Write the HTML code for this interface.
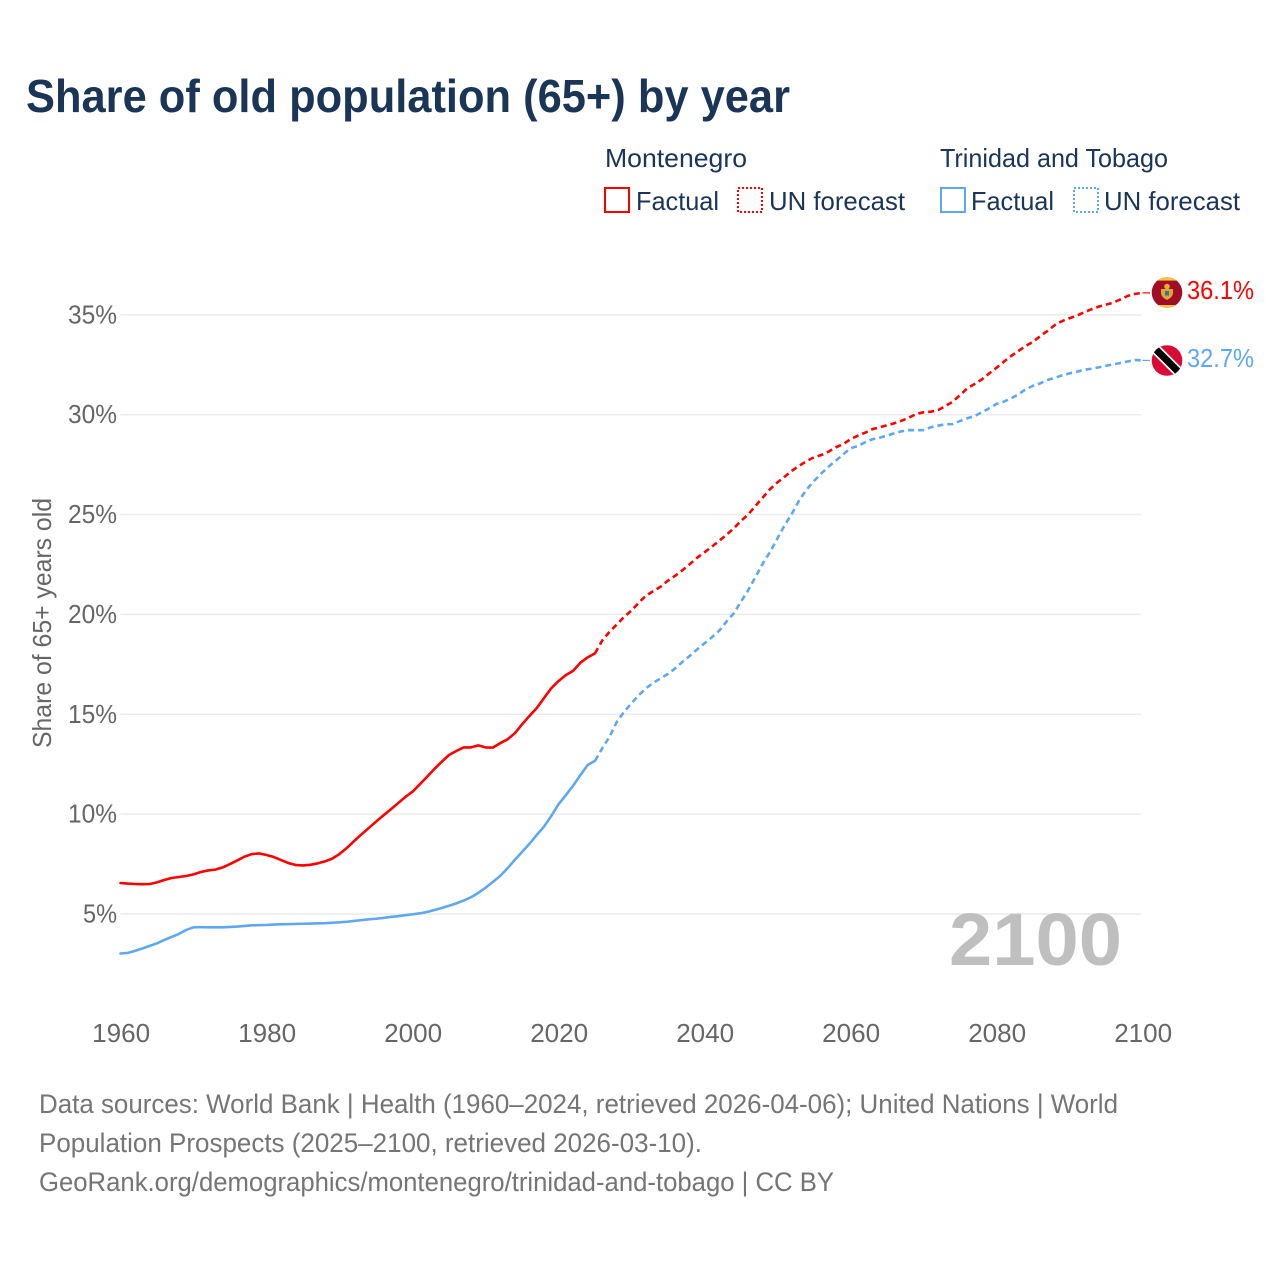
<!DOCTYPE html>
<html lang="en">
<head>
<meta charset="utf-8">
<title>Share of old population (65+) by year</title>
<style>
html,body{margin:0;padding:0;background:#fff;}
svg{display:block;font-family:"Liberation Sans",Arial,sans-serif;}
</style>
</head>
<body>
<svg id="chart" xmlns="http://www.w3.org/2000/svg" width="1280" height="1280" viewBox="0 0 1280 1280">
  <rect x="0" y="0" width="1280" height="1280" fill="#ffffff"/>
  <text x="26" y="112" font-size="46" font-weight="700" fill="#1a3556" textLength="764" lengthAdjust="spacingAndGlyphs">Share of old population (65+) by year</text>

  <g font-size="26" fill="#1a3556">
    <text x="605" y="167" textLength="142" lengthAdjust="spacingAndGlyphs">Montenegro</text>
    <rect x="605" y="188" width="24" height="24" fill="none" stroke="#ff0000" stroke-width="2"/>
    <text x="636" y="210" textLength="83" lengthAdjust="spacingAndGlyphs">Factual</text>
    <rect x="738" y="188" width="24" height="24" fill="none" stroke="#ff0000" stroke-width="2" stroke-dasharray="2 2"/>
    <text x="769" y="210" textLength="136" lengthAdjust="spacingAndGlyphs">UN forecast</text>
    <text x="940" y="167" textLength="228" lengthAdjust="spacingAndGlyphs">Trinidad and Tobago</text>
    <rect x="941" y="188" width="24" height="24" fill="none" stroke="#5fa8ee" stroke-width="2"/>
    <text x="971" y="210" textLength="83" lengthAdjust="spacingAndGlyphs">Factual</text>
    <rect x="1074" y="188" width="24" height="24" fill="none" stroke="#5fa8ee" stroke-width="2" stroke-dasharray="2 2"/>
    <text x="1104" y="210" textLength="136" lengthAdjust="spacingAndGlyphs">UN forecast</text>
  </g>

  <g id="grid"></g>
  <g id="yticks" font-size="26" fill="#666666"></g>
  <g id="xticks" font-size="26" fill="#666666"></g>
  <text transform="translate(51,748) rotate(-90)" font-size="26" fill="#666666" textLength="250" lengthAdjust="spacingAndGlyphs">Share of 65+ years old</text>

  <text x="949" y="965" font-size="74" font-weight="700" fill="#bfbfbf" textLength="173" lengthAdjust="spacingAndGlyphs">2100</text>

  <g id="series"></g>

  <g>
    <clipPath id="meclip"><circle cx="1167" cy="292.5" r="15.3"/></clipPath>
    <circle cx="1167" cy="292.5" r="15.3" fill="#a00d25"/>
    <g clip-path="url(#meclip)">
      <rect x="1151" y="277" width="32" height="3.6" fill="#f4c53d"/>
      <rect x="1151" y="305" width="32" height="3.6" fill="#f4c53d"/>
    </g>
    <path d="M1161 289h12v4q0 4-6 7q-6-3-6-7z" fill="#d9a92e"/>
    <circle cx="1167" cy="286.5" r="2.8" fill="#e0b030"/>
    <rect x="1165" y="291" width="4" height="4.5" fill="#3c6da8"/>
  </g>
  <g>
    <clipPath id="ttclip"><circle cx="1167" cy="360.5" r="15.3"/></clipPath>
    <circle cx="1167" cy="360.5" r="15.3" fill="#da0a35"/>
    <g clip-path="url(#ttclip)">
      <line x1="1152" y1="345.5" x2="1182" y2="375.5" stroke="#ffffff" stroke-width="10.5"/>
      <line x1="1152" y1="345.5" x2="1182" y2="375.5" stroke="#000000" stroke-width="7"/>
    </g>
  </g>

  <text id="label-red" x="1187" y="299" font-size="26" fill="#ff0000" textLength="67" lengthAdjust="spacingAndGlyphs"></text>
  <text id="label-blue" x="1187" y="367" font-size="26" fill="#5fa8ee" textLength="67" lengthAdjust="spacingAndGlyphs"></text>

  <g font-size="26.5" fill="#757575">
    <text x="39" y="1113" textLength="1079" lengthAdjust="spacingAndGlyphs">Data sources: World Bank | Health (1960–2024, retrieved 2026-04-06); United Nations | World</text>
    <text x="39" y="1152" textLength="663" lengthAdjust="spacingAndGlyphs">Population Prospects (2025–2100, retrieved 2026-03-10).</text>
    <text x="39" y="1191" textLength="795" lengthAdjust="spacingAndGlyphs">GeoRank.org/demographics/montenegro/trinidad-and-tobago | CC BY</text>
  </g>
</svg>
<script>
const xTickLabels = [1960, 1980, 2000, 2020, 2040, 2060, 2080, 2100];
const yTickLabels = [5, 10, 15, 20, 25, 30, 35];

const factualYears = [
  1960,1961,1962,1963,1964,1965,1966,1967,1968,1969,
  1970,1971,1972,1973,1974,1975,1976,1977,1978,1979,
  1980,1981,1982,1983,1984,1985,1986,1987,1988,1989,
  1990,1991,1992,1993,1994,1995,1996,1997,1998,1999,
  2000,2001,2002,2003,2004,2005,2006,2007,2008,2009,
  2010,2011,2012,2013,2014,2015,2016,2017,2018,2019,
  2020,2021,2022,2023,2024,2025];
const forecastYears = [
  2025,2026,2027,2028,2029,
  2030,2031,2032,2033,2034,2035,2036,2037,2038,2039,
  2040,2041,2042,2043,2044,2045,2046,2047,2048,2049,
  2050,2051,2052,2053,2054,2055,2056,2057,2058,2059,
  2060,2061,2062,2063,2064,2065,2066,2067,2068,2069,
  2070,2071,2072,2073,2074,2075,2076,2077,2078,2079,
  2080,2081,2082,2083,2084,2085,2086,2087,2088,2089,
  2090,2091,2092,2093,2094,2095,2096,2097,2098,2099,
  2100];

const montenegroFactual = [
  6.55,6.52,6.5,6.49,6.5,6.58,6.7,6.8,6.85,6.9,
  6.98,7.1,7.18,7.22,7.33,7.5,7.68,7.87,8.0,8.03,
  7.95,7.85,7.7,7.55,7.45,7.43,7.46,7.53,7.63,7.77,
  8.0,8.3,8.65,8.98,9.3,9.62,9.93,10.23,10.54,10.85,
  11.12,11.49,11.87,12.26,12.62,12.96,13.16,13.34,13.34,13.44,
  13.34,13.33,13.55,13.74,14.04,14.49,14.91,15.3,15.8,16.3,
  16.66,16.96,17.17,17.58,17.85,18.05];
const montenegroForecast = [
  18.05,18.7,19.13,19.5,19.88,
  20.19,20.59,20.94,21.17,21.39,21.69,21.94,22.22,22.52,22.84,
  23.11,23.39,23.68,23.98,24.31,24.68,25.01,25.44,25.86,26.28,
  26.61,26.9,27.2,27.45,27.68,27.87,27.98,28.15,28.37,28.53,
  28.77,28.95,29.1,29.28,29.37,29.47,29.57,29.7,29.85,30.04,
  30.12,30.15,30.23,30.43,30.65,30.98,31.32,31.54,31.77,32.07,
  32.35,32.65,32.94,33.19,33.44,33.65,33.94,34.2,34.49,34.69,
  34.83,34.96,35.13,35.28,35.41,35.51,35.61,35.78,35.95,36.05,
  36.1];
const trinidadFactual = [
  3.02,3.05,3.15,3.27,3.4,3.53,3.7,3.85,4.0,4.2,
  4.33,4.34,4.33,4.33,4.33,4.35,4.37,4.4,4.43,4.44,
  4.45,4.47,4.48,4.49,4.5,4.51,4.52,4.53,4.54,4.56,
  4.58,4.61,4.65,4.69,4.73,4.76,4.8,4.85,4.89,4.94,
  4.98,5.03,5.1,5.2,5.3,5.41,5.53,5.67,5.83,6.05,
  6.31,6.6,6.9,7.28,7.7,8.1,8.5,8.95,9.37,9.9,
  10.49,10.95,11.42,11.95,12.46,12.67];
const trinidadForecast = [
  12.67,13.3,13.88,14.63,15.13,
  15.55,15.96,16.3,16.58,16.8,17.02,17.3,17.63,17.93,18.25,
  18.55,18.85,19.18,19.63,20.05,20.64,21.22,21.89,22.56,23.14,
  23.81,24.48,25.06,25.73,26.26,26.68,27.06,27.4,27.7,28.01,
  28.32,28.43,28.62,28.77,28.85,28.95,29.07,29.17,29.23,29.22,
  29.23,29.37,29.45,29.52,29.53,29.68,29.82,29.93,30.12,30.32,
  30.54,30.65,30.82,31.02,31.27,31.45,31.57,31.74,31.85,31.97,
  32.07,32.15,32.25,32.3,32.37,32.45,32.52,32.59,32.67,32.74,
  32.72];

const RED = '#ff0000';
const BLUE = '#5fa8ee';
const NS = 'http://www.w3.org/2000/svg';

function xScale(year) { return 120.5 + (year - 1960) * 7.3; }
function yScale(value) { return 1013.8 - value * 19.97; }

function make(tag, attrs, parent) {
  const el = document.createElementNS(NS, tag);
  for (const k in attrs) el.setAttribute(k, attrs[k]);
  parent.appendChild(el);
  return el;
}

function linePath(years, values) {
  return years.map(function (yr, i) {
    return (i ? 'L' : 'M') + xScale(yr).toFixed(2) + ' ' + yScale(values[i]).toFixed(2);
  }).join('');
}

const gridGroup = document.getElementById('grid');
const yGroup = document.getElementById('yticks');
const xGroup = document.getElementById('xticks');
const seriesGroup = document.getElementById('series');

yTickLabels.forEach(function (v) {
  const line = make('line', { x1: 120.5, x2: 1141, y1: yScale(v), y2: yScale(v), stroke: '#ececec', 'stroke-width': 1.5 }, gridGroup);
  
  
  const label = v + '%';
  const t = make('text', { x: 117, y: yScale(v) + 8.5, 'text-anchor': 'end', textLength: label.length === 3 ? 49 : 34, lengthAdjust: 'spacingAndGlyphs' }, yGroup);
  
  
  t.textContent = label;
});

xTickLabels.forEach(function (yr) {
  const t = make('text', { x: xScale(yr) + 0.7, y: 1042, 'text-anchor': 'middle', textLength: 58, lengthAdjust: 'spacingAndGlyphs' }, xGroup);
  
  
  t.textContent = yr;
});

function drawSeries(name, color, factual, forecast) {
  const solid = make('path', { d: linePath(factualYears, factual), fill: 'none', stroke: color, 'stroke-width': 2.6, 'stroke-linejoin': 'round', 'stroke-linecap': 'round' }, seriesGroup);
  
  
  const dashed = make('path', { d: linePath(forecastYears, forecast), fill: 'none', stroke: color, 'stroke-width': 2.6, 'stroke-dasharray': '6 4', 'stroke-linejoin': 'round' }, seriesGroup);
  
  
  const last = forecast[forecast.length - 1];
  const conn = make('line', { x1: xScale(2100), x2: 1150, y1: yScale(last), y2: yScale(last), stroke: color, 'stroke-width': 1.2 }, seriesGroup);
  
  
}

drawSeries('montenegro', RED, montenegroFactual, montenegroForecast);
drawSeries('trinidad', BLUE, trinidadFactual, trinidadForecast);

document.getElementById('label-red').textContent = montenegroForecast[montenegroForecast.length - 1].toFixed(1) + '%';
document.getElementById('label-blue').textContent = trinidadForecast[trinidadForecast.length - 1].toFixed(1) + '%';
</script>
</body>
</html>
